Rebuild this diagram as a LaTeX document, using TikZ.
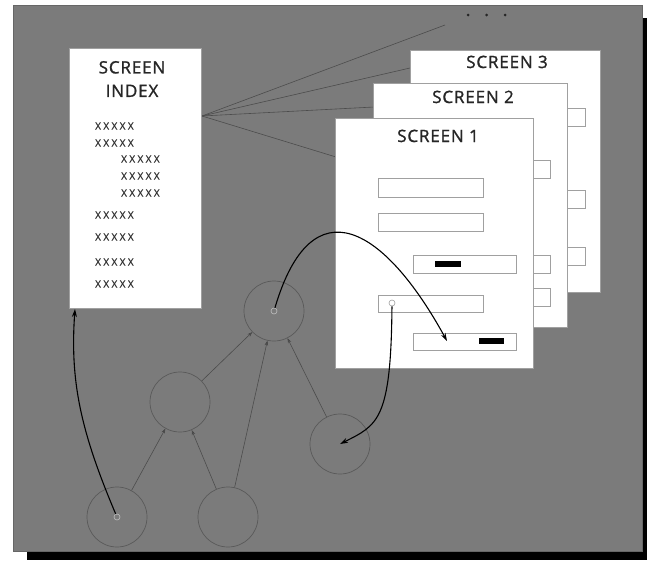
\documentclass[tikz,border=0pt]{standalone}
\usepackage{fontspec}
\setsansfont{Open Sans}
\newfontfamily\titlefont[LetterSpace=5, FakeBold=1.3]{Open Sans}
\newfontfamily\entryfont[LetterSpace=24, FakeBold=0.8]{Open Sans}
\usetikzlibrary{arrows.meta, positioning}

\definecolor{panelgray}{RGB}{123,123,123}
\definecolor{edgegray}{RGB}{160,160,160}

\begin{document}
\begin{tikzpicture}[x=1pt, y=-1pt,
    sheet/.style={draw=edgegray, fill=white, inner sep=0pt, outer sep=0pt, anchor=north west},
    field/.style={draw=edgegray, line width=0.8pt, fill=white, inner sep=0pt, outer sep=0pt,
      anchor=north west, minimum height=18pt},
    bar/.style={fill=black, inner sep=0pt, outer sep=0pt, anchor=north west, minimum height=6pt},
    title/.style={font=\titlefont\fontsize{17}{23.5}\selectfont, text=black!85, align=center},
    entry/.style={font=\entryfont\fontsize{10}{12}\selectfont, text=black!80, anchor=west, inner sep=0pt},
    unit/.style={circle, draw=black!65, line width=0.7pt, minimum size=60pt, inner sep=0pt},
    port/.style={circle, draw=white!75!black, line width=0.6pt, minimum size=6pt, inner sep=0pt},
    flow/.style={-{Stealth[length=5pt,width=3.5pt]}, draw=black!70, line width=0.6pt},
    jump/.style={-{Stealth[length=8pt,width=5pt]}, line width=1.1pt},
    fan/.style={draw=black!70, line width=0.6pt}]
    \useasboundingbox (0,0) rectangle (647,560);

    % panel and its shadow
    \fill [black] (27,18) rectangle (647,560);
    \filldraw [fill=panelgray, draw=black!60] (13,5) rectangle (642,551);

    % fan from the index to the screens
    \coordinate (fanhub) at (202,116);
    \coordinate (fanfar) at (445,25);
    \coordinate (fan3) at (410,68);
    \coordinate (fan2) at (374,107);
    \coordinate (fan1) at (336,157);
    \path [fan] (fanhub) edge (fanfar) (fanhub) edge (fan3)
      (fanhub) edge (fan2) (fanhub) edge (fan1);
    \foreach \i in {0,1,2}
      \fill [black!85] (468+18.5*\i,15) circle (1.5);

    % screen index
    \node (index) [sheet, minimum width=132pt, minimum height=260pt] at (69,48) {};
    \node (indextitle) [title] at (132,79) {SCREEN\\INDEX};
    \foreach \y in {126,143,215,237,262,284}
      \node [entry] at (95,\y) {XXXXX};
    \foreach \y in {159,176,193}
      \node [entry] at (121,\y) {XXXXX};

    % screen 3
    \node (s3) [sheet, minimum width=190pt, minimum height=242pt] at (410,50) {};
    \node (s3title) [title, anchor=base] at (507,68) {SCREEN 3};
    \foreach \y in {108,190,247}
      \node [field, minimum width=100pt] at (485,\y) {};

    % screen 2
    \node (s2) [sheet, minimum width=194pt, minimum height=244pt] at (373,83) {};
    \node (s2title) [title, anchor=base] at (473,103) {SCREEN 2};
    \foreach \y in {160,255,288}
      \node [field, minimum width=100pt] at (450,\y) {};

    % screen 1
    \node (s1) [sheet, minimum width=198pt, minimum height=250pt] at (335,118) {};
    \node (s1title) [title, anchor=base] at (438,142) {SCREEN 1};
    \node (fielda) [field, minimum width=105pt, minimum height=19pt] at (378,178) {};
    \node (fieldb) [field, minimum width=105pt] at (378,213) {};
    \node (fieldc) [field, minimum width=103pt] at (413,255) {};
    \node (barc) [bar, minimum width=26pt] at (435,261) {};
    \node (fieldd) [field, minimum width=105pt, minimum height=17pt] at (378,295) {};
    \node (fielde) [field, minimum width=103pt, minimum height=17pt] at (413,333) {};
    \node (bare) [bar, minimum width=25pt] at (479,338) {};

    % graph of units
    \node (root) [unit] at (274,311) {};
    \node (mid) [unit] at (180,402) {};
    \node (leafl) [unit] at (117,517) {};
    \node (leafm) [unit] at (228,517) {};
    \node (side) [unit] at (340,444) {};

    \node (rootport) [port] at (root) {};
    \node (leafport) [port] at (leafl) {};
    \node (fieldport) [port, draw=edgegray] at (392,303) {};

    \path [flow]
      (leafl) edge (mid)
      (leafm) edge (mid)
      (leafm) edge (root)
      (mid) edge (root)
      (side) edge (root);

    % jumps between index, graph and screen
    \coordinate (indexin) at (75,309);
    \coordinate (fieldein) at (447,341);
    \draw [jump] (leafport) .. controls (80,430) and (70,380) .. (indexin);
    \draw [jump] (rootport) .. controls (312,182) and (385,228) .. (fieldein);
    \draw [jump] (fieldport) .. controls (391,420) and (378,425) .. (side.center);
\end{tikzpicture}
\end{document}
